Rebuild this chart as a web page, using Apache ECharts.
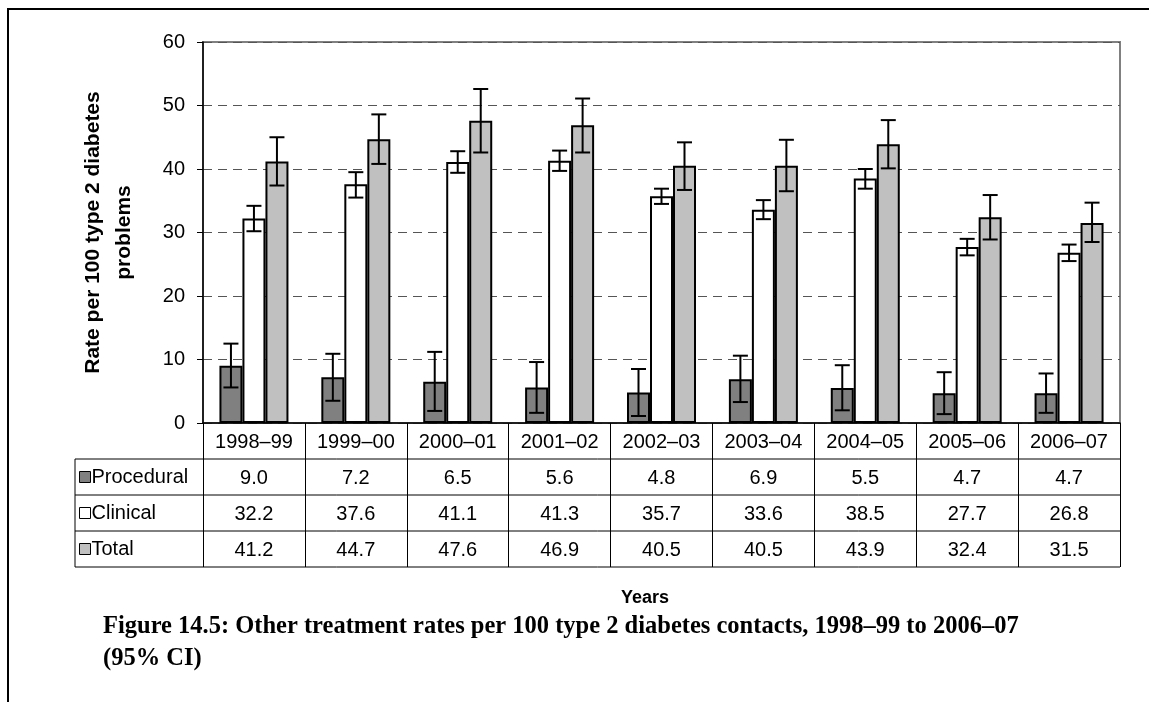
<!DOCTYPE html>
<html>
<head>
<meta charset="utf-8">
<script src="https://cdn.jsdelivr.net/npm/echarts@6/dist/echarts.min.js"></script>
<style>
html,body{margin:0;padding:0;background:#fff;}
#chart{width:1149px;height:702px;}
</style>
</head>
<body>
<div id="chart"></div>
<script>
const categories = ['1998–99','1999–00','2000–01','2001–02','2002–03','2003–04','2004–05','2005–06','2006–07'];
const seriesNames = ['Procedural','Clinical','Total'];
const procedural = [9.0,7.2,6.5,5.6,4.8,6.9,5.5,4.7,4.7];
const clinical = [32.2,37.6,41.1,41.3,35.7,33.6,38.5,27.7,26.8];
const total = [41.2,44.7,47.6,46.9,40.5,40.5,43.9,32.4,31.5];
const proceduralLow = [5.6,3.5,1.9,1.6,1.1,3.3,2.0,1.4,1.6];
const proceduralHigh = [12.5,10.9,11.2,9.6,8.5,10.6,9.1,8.0,7.8];
const clinicalLow = [30.2,35.5,39.4,39.7,34.5,32.1,36.9,26.4,25.5];
const clinicalHigh = [34.2,39.5,42.8,42.9,36.9,35.1,40.0,29.0,28.1];
const totalLow = [37.4,40.8,42.6,42.6,36.7,36.5,40.1,28.9,28.5];
const totalHigh = [45.0,48.6,52.6,51.1,44.2,44.6,47.7,35.9,34.7];
const yMin = 0, yMax = 60, yStep = 10;
const yTitle = 'Rate per 100 type 2 diabetes\nproblems';
const xTitle = 'Years';
const caption = 'Figure 14.5: Other treatment rates per 100 type 2 diabetes contacts, 1998–99 to 2006–07\n(95% CI)';

const FONT = "'Liberation Sans', Arial, sans-serif";
const BAR_W = 23;
const FS = 20;
const ROW = 36;
const GRID = {left: 203, top: 42, right: 29, bottom: 279};
const TABLE_LEFT = 75;

const chart = echarts.init(document.getElementById('chart'), null, {renderer: 'canvas'});

function errSeries(name, low, high, offset) {
  return {
    type: 'custom',
    name: name + ' CI',
    xAxisIndex: 0,
    yAxisIndex: 0,
    z: 5,
    data: low.map((l, i) => [i, l, high[i]]),
    renderItem: function (params, api) {
      const x = api.coord([api.value(0), 0])[0] + offset;
      const y1 = api.coord([api.value(0), api.value(1)])[1];
      const y2 = api.coord([api.value(0), api.value(2)])[1];
      const hw = 7.5;
      const st = {stroke: '#000', lineWidth: 2};
      return {
        type: 'group',
        children: [
          {type: 'line', shape: {x1: x, y1: y1, x2: x, y2: y2}, style: st},
          {type: 'line', shape: {x1: x - hw, y1: y1, x2: x + hw, y2: y1}, style: st},
          {type: 'line', shape: {x1: x - hw, y1: y2, x2: x + hw, y2: y2}, style: st}
        ]
      };
    }
  };
}

function tableAxis(values, idx) {
  return {
    type: 'category',
    data: categories,
    position: 'bottom',
    offset: ROW * idx,
    gridIndex: 0,
    axisLine: {show: false},
    axisTick: {show: false},
    splitLine: {show: false},
    axisLabel: {
      show: true,
      interval: 0,
      margin: 9,
      color: '#000',
      fontFamily: FONT,
      fontSize: FS,
      formatter: function (v, i) { return values[i].toFixed(1); }
    }
  };
}

const tableLinesY = [1, 2, 3, 4].map(k => 423 + ROW * k);

const option = {
  backgroundColor: '#fff',
  animation: false,
  grid: Object.assign({show: true, borderColor: '#808080', borderWidth: 2, backgroundColor: 'transparent'}, GRID),
  legend: {
    data: seriesNames,
    orient: 'vertical',
    left: 79,
    top: 459,
    itemGap: 0,
    itemWidth: 11,
    itemHeight: 11,
    icon: 'rect',
    padding: 0,
    selectedMode: false,
    itemStyle: {borderColor: '#000', borderWidth: 1},
    textStyle: {fontFamily: FONT, fontSize: FS, color: '#000', lineHeight: ROW, padding: [0, 0, 0, -4]}
  },
  xAxis: [
    {
      type: 'category',
      data: categories,
      position: 'bottom',
      axisLine: {show: true, lineStyle: {color: '#000', width: 1.5}},
      axisTick: {show: true, length: ROW * 4, lineStyle: {color: '#000', width: 1}},
      axisLabel: {interval: 0, margin: 9, color: '#000', fontFamily: FONT, fontSize: FS},
      splitLine: {show: false}
    },
    tableAxis(procedural, 1),
    tableAxis(clinical, 2),
    tableAxis(total, 3)
  ],
  yAxis: {
    type: 'value',
    min: yMin,
    max: yMax,
    interval: yStep,
    axisLine: {show: true, lineStyle: {color: '#000', width: 1.5}},
    axisTick: {show: true, length: 6, lineStyle: {color: '#000'}},
    axisLabel: {color: '#000', fontFamily: FONT, fontSize: FS, margin: 18},
    splitLine: {show: true, lineStyle: {color: '#555', type: [9, 6], width: 1}},
    name: yTitle,
    nameLocation: 'middle',
    nameRotate: 90,
    nameGap: 63,
    nameTextStyle: {fontFamily: FONT, fontSize: 21, fontWeight: 'bold', color: '#000', lineHeight: 31, align: 'center'}
  },
  series: [
    {type: 'bar', name: 'Procedural', data: procedural, barWidth: BAR_W, barGap: '0%',
     itemStyle: {color: '#808080', borderColor: '#000', borderWidth: 2}},
    {type: 'bar', name: 'Clinical', data: clinical, barWidth: BAR_W, barGap: '0%',
     itemStyle: {color: '#ffffff', borderColor: '#000', borderWidth: 2}},
    {type: 'bar', name: 'Total', data: total, barWidth: BAR_W, barGap: '0%',
     itemStyle: {color: '#c0c0c0', borderColor: '#000', borderWidth: 2}},
    errSeries('Procedural', proceduralLow, proceduralHigh, -BAR_W),
    errSeries('Clinical', clinicalLow, clinicalHigh, 0),
    errSeries('Total', totalLow, totalHigh, BAR_W)
  ],
  graphic: [
    {type: 'line', shape: {x1: 8, y1: 9, x2: 1149, y2: 9}, style: {stroke: '#000', lineWidth: 2}},
    {type: 'line', shape: {x1: 8, y1: 8, x2: 8, y2: 702}, style: {stroke: '#000', lineWidth: 2}}
  ].concat(tableLinesY.map(y => ({
    type: 'line', shape: {x1: TABLE_LEFT, y1: y, x2: 1120, y2: y}, style: {stroke: '#000', lineWidth: 1}
  }))).concat([
    {type: 'line', shape: {x1: TABLE_LEFT, y1: 459, x2: TABLE_LEFT, y2: 567}, style: {stroke: '#000', lineWidth: 1}},
    {type: 'text', x: 645, y: 598, style: {text: xTitle, align: 'center', verticalAlign: 'middle', fontFamily: FONT, fontWeight: 'bold', fontSize: 18, fill: '#000'}},
    {type: 'text', left: 103, top: 611, style: {text: caption, fontFamily: "'Liberation Serif', serif", fontWeight: 'bold', fontSize: 24.5, lineHeight: 32, fill: '#000'}}
  ])
};
chart.setOption(option);
</script>
</body>
</html>
